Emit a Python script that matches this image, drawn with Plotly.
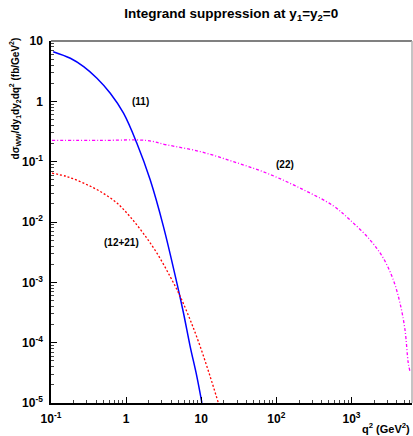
import plotly.graph_objects as go
import math

# (11) blue solid
q2_11 = [0.107, 0.181, 0.272, 0.409, 0.615, 0.923, 1.39, 2.09, 3.14, 4.74, 5.80, 7.11, 8.73, 10.2]
v_11 = [6.65, 5.17, 3.76, 2.41, 1.36, 0.635, 0.202, 0.050, 0.0084, 9.7e-4, 3.1e-4, 8.7e-5, 2.77e-5, 1.0e-5]

# (12+21) red dotted
q2_12 = [0.103, 0.163, 0.272, 0.453, 0.755, 1.125, 1.69, 2.57, 3.85, 5.24, 7.11, 9.66, 13.1, 16.9]
v_12 = [0.0645, 0.0566, 0.0441, 0.0320, 0.0206, 0.0123, 6.5e-3, 3.05e-3, 1.25e-3, 5.85e-4, 2.4e-4, 8.7e-5, 2.77e-5, 1.0e-5]

# (22) magenta dash-dot
q2_22 = [0.103, 0.453, 1.89, 3.49, 9.66, 26.8, 74.5, 207, 573, 955, 1762, 2648, 3597, 4416, 5145, 5690, 5998]
v_22 = [0.225, 0.225, 0.224, 0.19, 0.147, 0.100, 0.0645, 0.0364, 0.0185, 0.0108, 5.07e-3, 2.52e-3, 1.10e-3, 4.54e-4, 1.64e-4, 4.6e-5, 3.35e-5]

x_tickvals = [0.1, 1, 10, 100, 1000]
x_ticktext = ["10<sup>-1</sup>", "1", "10", "10<sup>2</sup>", "10<sup>3</sup>"]
y_tickvals = [10, 1, 0.1, 0.01, 1e-3, 1e-4, 1e-5]
y_ticktext = ["10", "1", "10<sup>-1</sup>", "10<sup>-2</sup>", "10<sup>-3</sup>", "10<sup>-4</sup>", "10<sup>-5</sup>"]

curve_labels = ["(11)", "(22)", "(12+21)"]
label_x = [1.54, 130, 0.88]
label_y = [1.0, 0.0885, 4.5e-3]

FONT = "Liberation Sans, Arial, Helvetica, sans-serif"

x_minor = [m * 10 ** e for e in range(-1, 4) for m in range(2, 10) if m * 10 ** e < 6400]
y_minor = [m * 10 ** e for e in range(-5, 1) for m in range(2, 10)]

fig = go.Figure()
fig.add_trace(go.Scatter(x=q2_11, y=v_11, mode="lines", line=dict(color="#0000ff", width=1.5, shape="spline")))
fig.add_trace(go.Scatter(x=q2_12, y=v_12, mode="lines", line=dict(color="#ff0000", width=1.3, dash="2px,2px", shape="spline")))
fig.add_trace(go.Scatter(x=q2_22, y=v_22, mode="lines", line=dict(color="#ff00ff", width=1.3, dash="3px,2px,1px,2px", shape="spline")))

for t, x, y in zip(curve_labels, label_x, label_y):
    fig.add_annotation(x=math.log10(x), y=math.log10(y), text="<b>" + t + "</b>", showarrow=False,
                       font=dict(family=FONT, size=10, color="black"))

fig.update_layout(
    width=413, height=436,
    margin=dict(l=51, r=1, t=41, b=33, autoexpand=False),
    paper_bgcolor="white", plot_bgcolor="white",
    showlegend=False,
    font=dict(family=FONT, color="black"),
    title=dict(text="<b>Integrand suppression at y<sub>1</sub>=y<sub>2</sub>=0</b>",
               x=0.56, xref="container", y=0.97, yanchor="middle",
               font=dict(family=FONT, size=13.5, color="black")),
)

fig.update_xaxes(type="log", range=[-1, 3.805], showgrid=False, zeroline=False, automargin=False,
                 showline=True, linecolor="black", linewidth=1.5,
                 ticks="inside", ticklen=6, tickwidth=1, tickcolor="black",
                 tickvals=x_tickvals, ticktext=x_ticktext,
                 tickfont=dict(family=FONT, size=12, color="black", weight="bold"),
                 ticklabelstandoff=4,
                 minor=dict(tickvals=x_minor, ticks="inside", ticklen=3, tickcolor="#444", showgrid=False))
fig.update_yaxes(type="log", range=[-5, 1], showgrid=False, zeroline=False, automargin=False,
                 showline=True, linecolor="black", linewidth=1.5,
                 ticks="inside", ticklen=6, tickwidth=1, tickcolor="black",
                 tickvals=y_tickvals, ticktext=y_ticktext,
                 tickfont=dict(family=FONT, size=12, color="black", weight="bold"),
                 ticklabelstandoff=4,
                 minor=dict(tickvals=y_minor, ticks="inside", ticklen=3, tickcolor="#444", showgrid=False))

# top and right frame in gray
fig.add_shape(type="line", xref="paper", yref="paper", x0=0, x1=1, y0=1, y1=1,
              line=dict(color="#808080", width=2))
fig.add_shape(type="line", xref="paper", yref="paper", x0=1, x1=1, y0=0, y1=1,
              line=dict(color="#b0b0b0", width=1.5))

fig.add_annotation(xref="paper", yref="paper", x=-0.1, y=1.015, xanchor="center", yanchor="top",
                   textangle=-90, showarrow=False,
                   text="<b>dσ<sub>WW</sub>/dy<sub>1</sub>dy<sub>2</sub>dq<sup>2</sup> (fb/GeV<sup>2</sup>)</b>",
                   font=dict(family=FONT, size=10, color="black"))
fig.add_annotation(xref="paper", yref="paper", x=1.0, y=-0.045, xanchor="right", yanchor="top",
                   showarrow=False, text="<b>q<sup>2</sup> (GeV<sup>2</sup>)</b>",
                   font=dict(family=FONT, size=11, color="black"))

fig.write_html("out.html", config={"displayModeBar": False},
               post_script="document.body.style.margin='0';document.body.style.overflow='hidden';")
